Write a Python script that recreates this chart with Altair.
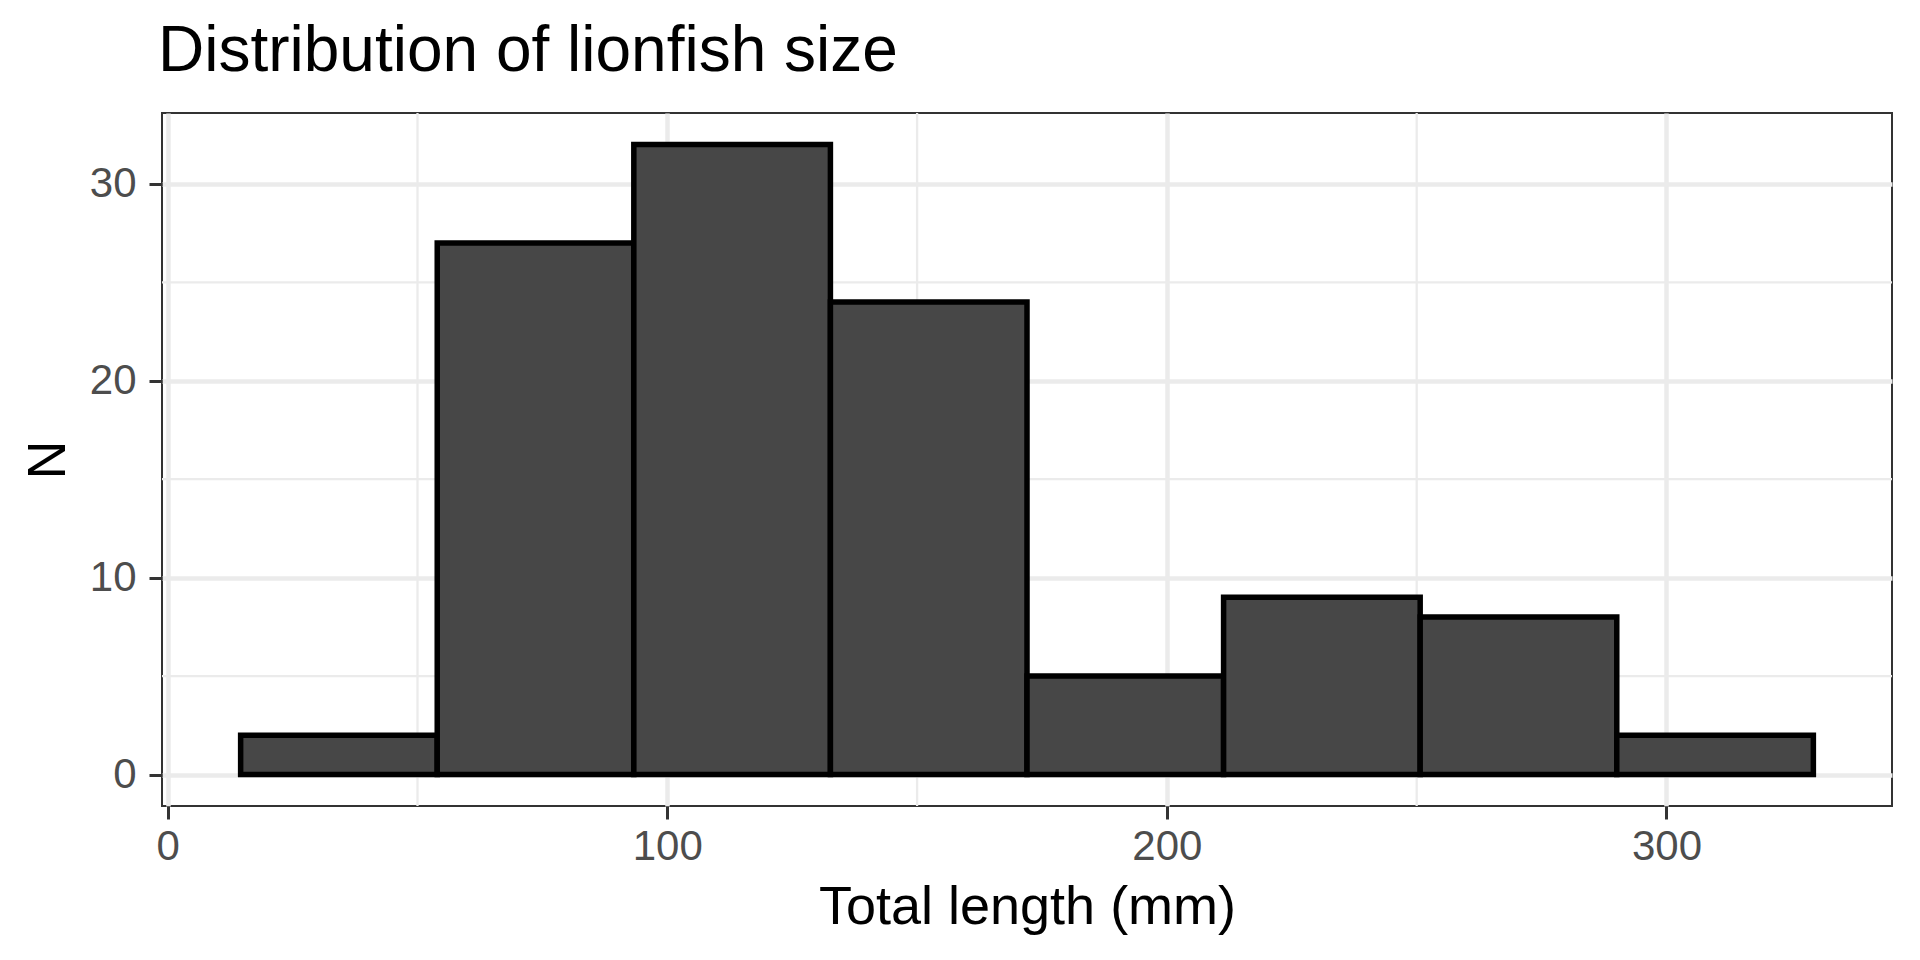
import altair as alt
import pandas as pd

# Histogram bins (Total length, mm) and counts
bin_start = [14.6, 53.95, 93.3, 132.65, 172.0, 211.35, 250.7, 290.05]
bin_end = [53.95, 93.3, 132.65, 172.0, 211.35, 250.7, 290.05, 329.4]
counts = [2, 27, 32, 24, 5, 9, 8, 2]

x_ticks = [0, 100, 200, 300]
y_ticks = [0, 10, 20, 30]
x_minor = [50, 150, 250]
y_minor = [5, 15, 25]

bars = pd.DataFrame({"start": bin_start, "end": bin_end, "n": counts})
xm = pd.DataFrame({"v": x_minor})
ym = pd.DataFrame({"v": y_minor})

FONT = "Liberation Sans"
GRID = "#EBEBEB"

xscale = alt.Scale(domain=[-1.14, 345.14], nice=False, zero=False)
yscale = alt.Scale(domain=[-1.6, 33.6], nice=False, zero=False)

xaxis = alt.Axis(
    values=x_ticks, title="Total length (mm)", grid=True, gridColor=GRID, gridWidth=4.5,
    domain=False, tickColor="#333333", tickWidth=3, tickSize=13,
    labelFont=FONT, labelFontSize=42, labelColor="#4D4D4D", labelPadding=7,
    titleFont=FONT, titleFontSize=54, titleColor="black", titleFontWeight="normal",
    titleBaseline="alphabetic", titleY=117, labelFlush=False,
)
yaxis = alt.Axis(
    values=y_ticks, title="N", grid=True, gridColor=GRID, gridWidth=4.5,
    domain=False, tickColor="#333333", tickWidth=3, tickSize=13,
    labelFont=FONT, labelFontSize=42, labelColor="#4D4D4D", labelPadding=13,
    titleFont=FONT, titleFontSize=54, titleColor="black", titleFontWeight="normal",
    titleBaseline="alphabetic", titleX=-98, titleY=346.5, titleAngle=270, labelFlush=False,
)

vminor = alt.Chart(xm).mark_rule(color=GRID, strokeWidth=2.3).encode(
    x=alt.X("v:Q", scale=xscale, axis=xaxis)
)
hminor = alt.Chart(ym).mark_rule(color=GRID, strokeWidth=2.3).encode(
    y=alt.Y("v:Q", scale=yscale, axis=yaxis)
)
hist = alt.Chart(bars).mark_rect(
    fill="#474747", stroke="black", strokeWidth=5.5, strokeJoin="miter"
).encode(
    x=alt.X("start:Q", scale=xscale, axis=xaxis),
    x2="end:Q",
    y=alt.Y("n:Q", scale=yscale, axis=yaxis),
    y2=alt.datum(0),
)

chart = alt.layer(vminor, hminor, hist).properties(
    width=1730,
    height=693,
    background="white",
    autosize=alt.AutoSizeParams(type="none"),
    padding={"left": 154, "top": 105, "right": 12, "bottom": 140},
    title=alt.TitleParams(
        "Distribution of lionfish size", anchor="start", frame="group",
        font=FONT, fontSize=64, fontWeight="normal", color="black",
        baseline="alphabetic", offset=-23, dx=-4,
    ),
).configure_view(stroke="#333333", strokeWidth=2)

chart.save("out.html", embed_options={"renderer": "svg", "actions": False})
